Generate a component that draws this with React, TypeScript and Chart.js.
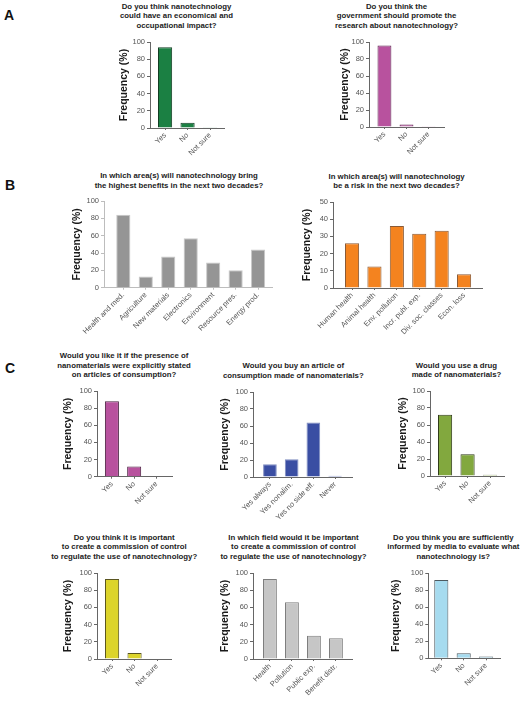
import React, { useEffect, useRef } from 'react';
import { Chart, registerables } from 'chart.js';

Chart.register(...registerables);

const FONT = "'Liberation Sans', Arial, Helvetica, sans-serif";
Chart.defaults.font.family = FONT;

// ---------------- data ----------------
const yesNoLabels = ['Yes', 'No', 'Not sure'];
const impactValues = [94, 6, 1];
const promoteValues = [96, 3, 1];

const benefitLabels = ['Health and med.', 'Agriculture', 'New materials', 'Electronics', 'Environment', 'Resource pres.', 'Energy prod.'];
const benefitValues = [84, 13, 36, 57, 29, 20, 44];

const riskLabels = ['Human health', 'Animal health', 'Env. pollution', 'Incr. publ. exp.', 'Div. soc. classes', 'Econ. loss'];
const riskValues = [26, 12.5, 36, 31.5, 33.3, 8];

const labelingValues = [88, 12, 0.5];

const buyLabels = ['Yes always', 'Yes nonalim.', 'Yes no side eff.', 'Never'];
const buyValues = [15, 21, 64, 1.5];

const drugValues = [72, 25.5, 1.5];

const commissionValues = [93, 7, 0];

const fieldLabels = ['Health', 'Pollution', 'Public exp.', 'Benefit distr.'];
const fieldValues = [93, 66, 27, 24];

const mediaValues = [92, 6, 2];

const yAxisTitle = 'Frequency (%)';

const titleImpact = ['Do you think nanotechnology', 'could have an economical and', 'occupational impact?'];
const titlePromote = ['Do you think the', 'government should promote the', 'research about nanotechnology?'];
const titleBenefit = ['In which area(s) will nanotechnology bring', 'the highest benefits in the next two decades?'];
const titleRisk = ['In which area(s) will nanotechnology', 'be a risk in the next two decades?'];
const titleLabeling = ['Would you like it if the presence of', 'nanomaterials were explicitly stated', 'on articles of consumption?'];
const titleBuy = ['Would you buy an article of', 'consumption made of nanomaterials?'];
const titleDrug = ['Would you use a drug', 'made of nanomaterials?'];
const titleCommission = ['Do you think it is important', 'to create a commission of control', 'to regulate the use of nanotechnology?'];
const titleField = ['In which field would it be important', 'to create a commission of control', 'to regulate the use of nanotechnology?'];
const titleMedia = ['Do you think you are sufficiently', 'informed by media to evaluate what', 'nanotechnology is?'];

// ---------------- layout / style ----------------
type Geo = {
  axisX: number; axisEnd: number; top: number; zero: number; yTitleX: number;
  padL: number; padR: number; yMax: number; yStep: number; xh: number;
};
type Sty = { fill: string; border: string; axis: string };

const YT_SIZE = 10.5;
const YT_LH = 1.2;

function BarPanel({ labels, values, geo, sty }: { labels: string[]; values: number[]; geo: Geo; sty: Sty }) {
  const ref = useRef<HTMLCanvasElement>(null);
  const left = Math.round(geo.yTitleX - (YT_SIZE * YT_LH) / 2);
  const top = Math.round(geo.top - 6);
  const padTop = geo.top - top;
  const width = Math.round(geo.axisEnd - left + 6);
  const padRight = width - (geo.axisEnd - left);
  const height = Math.round(geo.zero - top + geo.xh);
  const xh = height - (geo.zero - top);

  useEffect(() => {
    const chart = new Chart(ref.current as HTMLCanvasElement, {
      type: 'bar',
      data: {
        datasets: [
          {
            data: values.map((v, i) => ({ x: i, y: v })),
            backgroundColor: sty.fill,
            borderColor: sty.border,
            borderWidth: 1,
            barPercentage: 0.63,
            categoryPercentage: 1,
          } as any,
        ],
      },
      options: {
        responsive: false,
        animation: false,
        devicePixelRatio: 1,
        layout: { padding: { top: padTop, right: padRight, left: 0, bottom: 0 } },
        plugins: { legend: { display: false }, tooltip: { enabled: false }, title: { display: false } },
        scales: {
          x: {
            type: 'linear',
            offset: false,
            min: -geo.padL,
            max: values.length - 1 + geo.padR,
            afterBuildTicks: (axis: any) => {
              axis.ticks = labels.map((_, i) => ({ value: i }));
            },
            afterFit: (axis: any) => {
              axis.height = xh;
              axis.paddingLeft = 0;
              axis.paddingRight = 0;
            },
            ticks: {
              autoSkip: false,
              maxRotation: 45,
              minRotation: 45,
              padding: 1,
              color: '#555',
              font: { size: 7.5, family: FONT },
              callback: (v: any) => labels[Math.round(Number(v))] ?? '',
            },
            grid: { display: true, offset: false, drawOnChartArea: false, drawTicks: true, tickLength: 2, color: sty.axis },
            border: { display: true, color: sty.axis, width: 1 },
          } as any,
          y: {
            type: 'linear',
            min: 0,
            max: geo.yMax,
            afterFit: (axis: any) => {
              axis.width = geo.axisX - left;
              axis.paddingTop = 0;
              axis.paddingBottom = 0;
            },
            ticks: { stepSize: geo.yStep, padding: 2, color: '#555', font: { size: 7.5, family: FONT } },
            grid: { display: true, drawOnChartArea: false, drawTicks: true, tickLength: 3, color: sty.axis },
            border: { display: true, color: sty.axis, width: 1 },
            title: {
              display: true,
              text: yAxisTitle,
              color: '#1a1a1a',
              padding: 0,
              font: { size: YT_SIZE, weight: 'bold', family: FONT, lineHeight: YT_LH },
            },
          } as any,
        },
      },
    });
    return () => chart.destroy();
  }, []);

  return (
    <canvas
      ref={ref}
      width={width}
      height={height}
      style={{ position: 'absolute', left, top, width, height, display: 'block' }}
    />
  );
}

const T_SIZE = 7.8;
const T_LH = 9.5;

function Title({ lines, cx, y0 }: { lines: string[]; cx: number; y0: number }) {
  return (
    <>
      {lines.map((t, i) => (
        <div
          key={i}
          style={{
            position: 'absolute',
            left: cx - 150,
            width: 300,
            top: y0 + i * T_LH - T_LH / 2,
            height: T_LH,
            lineHeight: T_LH + 'px',
            textAlign: 'center',
            fontSize: T_SIZE,
            fontWeight: 'bold',
            color: '#222',
            whiteSpace: 'nowrap',
          }}
        >
          {t}
        </div>
      ))}
    </>
  );
}

function Letter({ text, x, y }: { text: string; x: number; y: number }) {
  return (
    <div style={{ position: 'absolute', left: x, top: y, fontSize: 14, lineHeight: '14px', fontWeight: 'bold', color: '#111' }}>
      {text}
    </div>
  );
}

const AXIS = '#666';

export default function App() {
  return (
    <div style={{ position: 'absolute', left: 0, top: 0, width: 525, height: 701, background: '#fff', fontFamily: FONT, overflow: 'hidden' }}>
      <Letter text="A" x={4} y={8} />
      <Letter text="B" x={5} y={178} />
      <Letter text="C" x={5} y={361} />

      <Title lines={titleImpact} cx={176.5} y0={6.7} />
      <BarPanel labels={yesNoLabels} values={impactValues}
        geo={{ axisX: 150, axisEnd: 224, top: 42, zero: 128, yTitleX: 124, padL: 0.67, padR: 0.62, yMax: 100, yStep: 20, xh: 42 }}
        sty={{ fill: '#1b8043', border: '#133d24', axis: AXIS }} />

      <Title lines={titlePromote} cx={396.5} y0={6.7} />
      <BarPanel labels={yesNoLabels} values={promoteValues}
        geo={{ axisX: 369, axisEnd: 444, top: 42, zero: 127, yTitleX: 345, padL: 0.7, padR: 0.7, yMax: 100, yStep: 20, xh: 42 }}
        sty={{ fill: '#b8529e', border: '#5e2450', axis: AXIS }} />

      <Title lines={titleBenefit} cx={179} y0={175.8} />
      <BarPanel labels={benefitLabels} values={benefitValues}
        geo={{ axisX: 104, axisEnd: 272.7, top: 201, zero: 287.7, yTitleX: 77, padL: 0.86, padR: 0.65, yMax: 100, yStep: 20, xh: 56 }}
        sty={{ fill: '#959595', border: '#c8c8c8', axis: '#bdbdbd' }} />

      <Title lines={titleRisk} cx={396.5} y0={176.3} />
      <BarPanel labels={riskLabels} values={riskValues}
        geo={{ axisX: 333, axisEnd: 482, top: 202, zero: 288, yTitleX: 307, padL: 0.85, padR: 0.8, yMax: 50, yStep: 10, xh: 56 }}
        sty={{ fill: '#f4831f', border: '#8a5a35', axis: AXIS }} />

      <Title lines={titleLabeling} cx={124} y0={355.8} />
      <BarPanel labels={yesNoLabels} values={labelingValues}
        geo={{ axisX: 97, axisEnd: 172, top: 391, zero: 476.7, yTitleX: 68, padL: 0.67, padR: 0.7, yMax: 100, yStep: 20, xh: 45 }}
        sty={{ fill: '#b8529e', border: '#4a2040', axis: AXIS }} />

      <Title lines={titleBuy} cx={293.3} y0={366} />
      <BarPanel labels={buyLabels} values={buyValues}
        geo={{ axisX: 253, axisEnd: 352, top: 392, zero: 477, yTitleX: 225, padL: 0.78, padR: 0.78, yMax: 100, yStep: 20, xh: 55 }}
        sty={{ fill: '#3a4ea3', border: '#7f8cc0', axis: AXIS }} />

      <Title lines={titleDrug} cx={456.5} y0={365.3} />
      <BarPanel labels={yesNoLabels} values={drugValues}
        geo={{ axisX: 430, axisEnd: 504, top: 391, zero: 476, yTitleX: 403, padL: 0.67, padR: 0.62, yMax: 100, yStep: 20, xh: 45 }}
        sty={{ fill: '#82a83e', border: '#2f3a1a', axis: AXIS }} />

      <Title lines={titleCommission} cx={124.2} y0={537.3} />
      <BarPanel labels={yesNoLabels} values={commissionValues}
        geo={{ axisX: 97, axisEnd: 171, top: 573, zero: 659, yTitleX: 68, padL: 0.67, padR: 0.62, yMax: 100, yStep: 20, xh: 40 }}
        sty={{ fill: '#dcd42b', border: '#5a5520', axis: AXIS }} />

      <Title lines={titleField} cx={293.5} y0={537.3} />
      <BarPanel labels={fieldLabels} values={fieldValues}
        geo={{ axisX: 253, axisEnd: 352, top: 573, zero: 659, yTitleX: 225, padL: 0.77, padR: 0.73, yMax: 100, yStep: 20, xh: 40 }}
        sty={{ fill: '#c6c6c6', border: '#7d7d7d', axis: AXIS }} />

      <Title lines={titleMedia} cx={453.3} y0={537.3} />
      <BarPanel labels={yesNoLabels} values={mediaValues}
        geo={{ axisX: 428.3, axisEnd: 500, top: 573.3, zero: 658.3, yTitleX: 396.7, padL: 0.58, padR: 0.62, yMax: 100, yStep: 20, xh: 40 }}
        sty={{ fill: '#a6dbef', border: '#4d5a60', axis: AXIS }} />
    </div>
  );
}
